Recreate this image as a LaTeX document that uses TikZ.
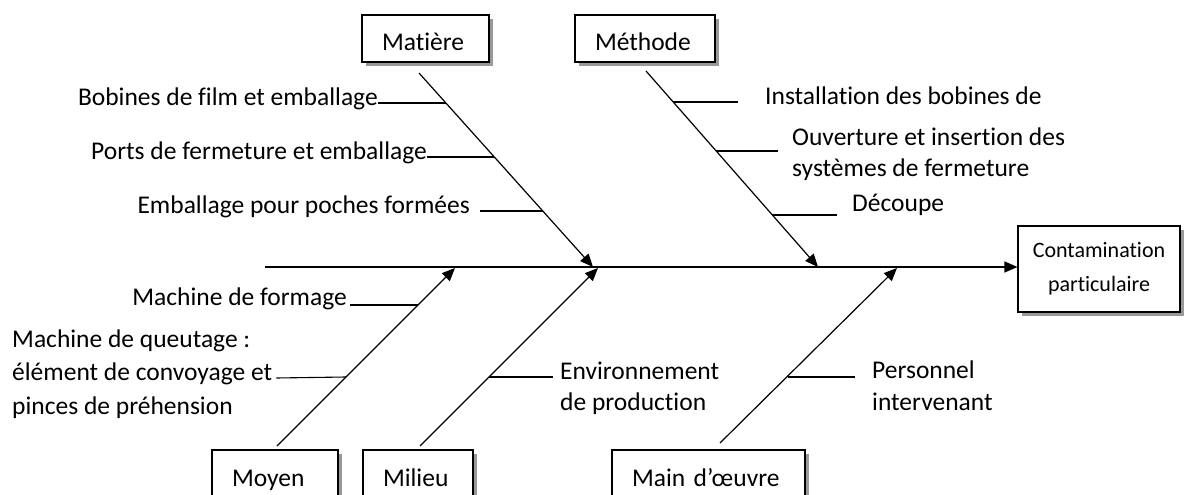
\documentclass[tikz,border=0pt]{standalone}
\usepackage{fontspec}
\setmainfont{Carlito}[Ligatures={NoCommon}]
\usetikzlibrary{arrows.meta,shadows}
\begin{document}
\begin{tikzpicture}[x=1pt,y=-1pt,
  lbl/.style={inner sep=0pt, font=\fontsize{25.5pt}{32pt}\selectfont},
  cat/.style={draw, line width=1.1pt, fill=white, inner xsep=20pt, inner ysep=0pt,
    text height=36pt, text depth=11pt, align=left,
    general shadow={fill=gray!80, shadow xshift=4pt, shadow yshift=-4pt},
    font=\fontsize{25.5pt}{32pt}\selectfont},
  bone/.style={line width=1.2pt, -{Triangle[length=13pt,width=11pt]}},
  twig/.style={line width=1.1pt}]
\path[use as bounding box] (0,0) rectangle (1194,495);
\clip (0,0) rectangle (1194,495);
\fill[white] (0,0) rectangle (1194,495);

% effect
\node[draw, line width=1.1pt, fill=white, minimum width=162pt, minimum height=86pt, inner sep=0pt,
  align=center, general shadow={fill=gray!80, shadow xshift=4pt, shadow yshift=-4pt},
  font=\fontsize{22pt}{34pt}\selectfont] (effect) at (1099,269) {Contamination\\particulaire};

% category boxes
\node[cat, text width=87pt]  (matiere) at (425.5,38.5) {Matière};
\node[cat, text width=100pt] (methode) at (645,38.5) {Méthode};
\node[cat, text width=86pt]  (moyen)   at (275,473.5) {Moyen};
\node[cat, text width=70pt]  (milieu)  at (418,473.5) {Milieu};
\node[cat, text width=153pt] (main)    at (708.5,473.5) {Main d’œuvre};

% spine
\coordinate (s0) at (265,267);
\draw[bone, line width=1.4pt] (s0) -- (s0 -| effect.west);

% bone coordinates
\coordinate (ma0) at (419,73);  \coordinate (ma1) at (593,267);
\coordinate (me0) at (646,71);  \coordinate (me1) at (818,267);
\coordinate (mo0) at (277,446); \coordinate (mo1) at (455,268);
\coordinate (mi0) at (420,446); \coordinate (mi1) at (598,268);
\coordinate (mw0) at (720,443); \coordinate (mw1) at (897,268);
\draw[bone] (ma0) -- (ma1);
\draw[bone] (me0) -- (me1);
\draw[bone] (mo0) -- (mo1);
\draw[bone] (mi0) -- (mi1);
\draw[bone] (mw0) -- (mw1);

% Matière causes
\node[lbl, anchor=mid east] (b1) at (378,103) {Bobines de film et emballage};
\node[lbl, anchor=mid east] (b2) at (427,157) {Ports de fermeture et emballage};
\node[lbl, anchor=mid east] (b3) at (470,211) {Emballage pour poches formées};
\coordinate (pb1) at (446,103);
\coordinate (pb2) at (494,157);
\coordinate (pb3) at (543,211);
\draw[twig] (b1.mid east) -- (pb1);
\draw[twig] (b2.mid east) -- (pb2);
\draw[twig] (b3.mid east) ++(10,0) -- (pb3);

% Méthode causes
\node[lbl, anchor=mid west] (t1) at (765,102) {Installation des bobines de};
\node[lbl, anchor=mid west] (t2a) at (792,143) {Ouverture et insertion des};
\node[lbl, anchor=mid west] (t2b) at (792,174) {systèmes de fermeture};
\node[lbl, anchor=mid west] (t3) at (852,209) {Découpe};
\coordinate (pt1) at (673,102);
\coordinate (pt2) at (716,151);
\coordinate (pt3) at (772,215);
\draw[twig] (pt1) -- (738,102);
\draw[twig] (pt2) -- (778,151);
\draw[twig] (pt3) -- (837,215);

% Moyen causes
\node[lbl, anchor=base east] (m1) at (347,305) {Machine de formage};
\node[lbl, anchor=mid west] (m2a) at (12,345) {Machine de queutage :};
\node[lbl, anchor=mid west] (m2b) at (12,378) {élément de convoyage et};
\node[lbl, anchor=mid west] (m2c) at (12,412) {pinces de préhension};
\coordinate (pm1) at (418,305);
\coordinate (pm2) at (346,377);
\draw[twig] (350,305) -- (pm1);
\draw[twig] (m2b.mid east) ++(4,0) -- (pm2);

% Milieu causes
\node[lbl, anchor=mid west] (e1) at (560,377) {Environnement};
\node[lbl, anchor=mid west] (e2) at (560,408) {de production};
\coordinate (pe1) at (489,377);
\draw[twig] (pe1) -- ([xshift=-7pt]e1.mid west);

% Main d'œuvre causes
\node[lbl, anchor=mid west] (w1) at (872,376) {Personnel};
\node[lbl, anchor=mid west] (w2) at (872,408) {intervenant};
\coordinate (pw1) at (788,377);
\draw[twig] (pw1) -- (855,377);
\end{tikzpicture}
\end{document}
